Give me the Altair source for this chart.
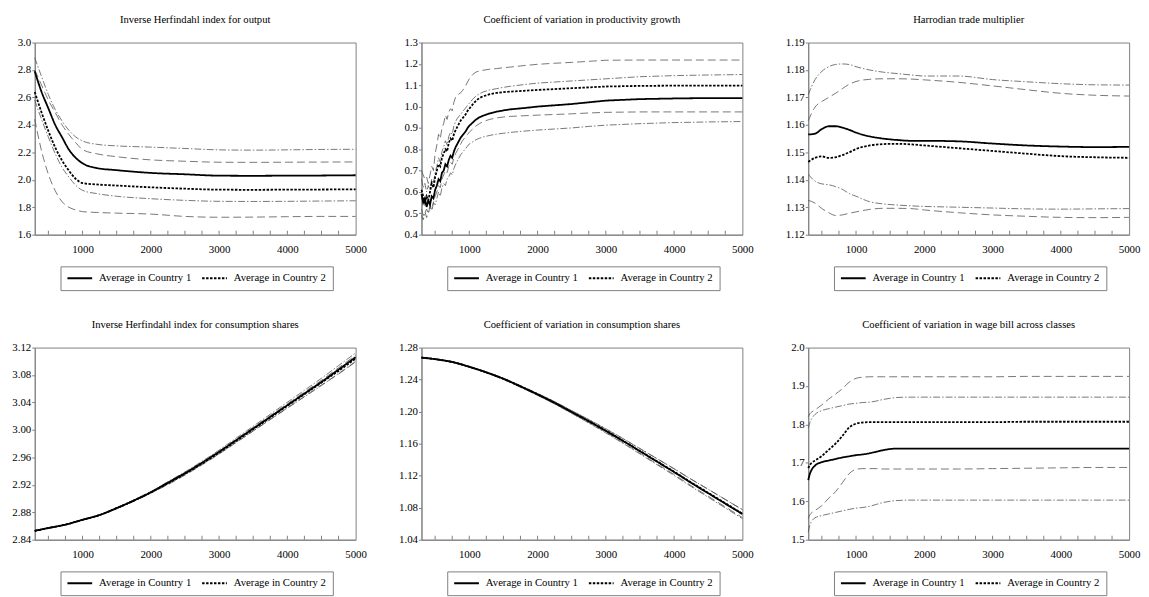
import altair as alt
import pandas as pd

S1 = "Average in Country 1"
S2 = "Average in Country 2"
X_DOMAIN = [300, 5000]
X_LABELS = [1000, 2000, 3000, 4000, 5000]
X_TICKS = [500, 750, 1000, 1250, 1500, 1750, 2000, 2250, 2500, 2750, 3000,
           3250, 3500, 3750, 4000, 4250, 4500, 4750]

# ---------- Panel 1: Inverse Herfindahl index for output ----------
p1_title = "Inverse Herfindahl index for output"
p1_x = [300, 400, 500, 600, 700, 800, 900, 1000, 1200, 1500, 2000, 2500, 3000, 3500, 4000, 4500, 5000]
p1_c1_hi = [2.889, 2.752, 2.620, 2.512, 2.428, 2.361, 2.312, 2.283, 2.259, 2.247, 2.238, 2.228, 2.218, 2.216, 2.218, 2.221, 2.222]
p1_c2_hi = [2.800, 2.690, 2.580, 2.490, 2.400, 2.330, 2.270, 2.220, 2.190, 2.168, 2.145, 2.135, 2.128, 2.127, 2.128, 2.129, 2.130]
p1_c1 = [2.790, 2.640, 2.520, 2.400, 2.310, 2.220, 2.160, 2.120, 2.086, 2.070, 2.050, 2.040, 2.030, 2.029, 2.030, 2.031, 2.033]
p1_c2 = [2.640, 2.490, 2.355, 2.235, 2.140, 2.067, 2.007, 1.976, 1.966, 1.958, 1.945, 1.935, 1.928, 1.927, 1.928, 1.929, 1.930]
p1_c1_lo = [2.580, 2.440, 2.310, 2.190, 2.090, 2.020, 1.960, 1.923, 1.900, 1.880, 1.862, 1.850, 1.843, 1.842, 1.843, 1.845, 1.847]
p1_c2_lo = [2.440, 2.210, 2.040, 1.920, 1.840, 1.800, 1.780, 1.768, 1.762, 1.757, 1.750, 1.733, 1.727, 1.728, 1.731, 1.733, 1.733]
p1_y = [1.6, 1.8, 2.0, 2.2, 2.4, 2.6, 2.8, 3.0]

# ---------- Panel 2: Coefficient of variation in productivity growth ----------
p2_title = "Coefficient of variation in productivity growth"
p2_x = [300, 325, 350, 375, 400, 425, 450, 475, 500, 525, 550, 575, 600, 625, 650, 675, 700, 725, 750, 775,
        800, 825, 850, 875, 900, 925, 950, 975, 1000,
        1050, 1100, 1150, 1200, 1300, 1400, 1500, 1600, 1800, 2000, 2250, 2500, 2750, 3000, 3500, 4000, 4500, 5000]
p2_c2_hi = [0.70, 0.68, 0.66, 0.67, 0.64, 0.68, 0.72, 0.70, 0.78, 0.82, 0.87, 0.85, 0.90, 0.92, 0.96, 0.94, 0.975, 0.99, 0.98, 1.02,
            1.045, 1.05, 1.06, 1.065, 1.075, 1.085, 1.10, 1.115, 1.13,
            1.15, 1.162, 1.167, 1.170, 1.175, 1.178, 1.182, 1.185, 1.192, 1.198, 1.203, 1.207, 1.212, 1.217, 1.218, 1.218, 1.218, 1.218]
p2_c1_hi = [0.66, 0.62, 0.64, 0.60, 0.63, 0.61, 0.66, 0.64, 0.69, 0.72, 0.76, 0.74, 0.79, 0.81, 0.84, 0.82, 0.86, 0.88, 0.87, 0.91,
            0.93, 0.945, 0.955, 0.965, 0.975, 0.985, 0.995, 1.005, 1.015,
            1.035, 1.05, 1.06, 1.068, 1.078, 1.084, 1.09, 1.095, 1.103, 1.11, 1.115, 1.12, 1.125, 1.13, 1.14, 1.145, 1.148, 1.15]
p2_c2 = [0.61, 0.58, 0.55, 0.58, 0.56, 0.60, 0.64, 0.62, 0.67, 0.70, 0.73, 0.72, 0.76, 0.78, 0.80, 0.79, 0.83, 0.85, 0.84, 0.87,
         0.89, 0.905, 0.92, 0.935, 0.945, 0.955, 0.965, 0.98, 0.99,
         1.01, 1.028, 1.04, 1.048, 1.058, 1.064, 1.068, 1.07, 1.074, 1.078, 1.082, 1.086, 1.09, 1.094, 1.097, 1.098, 1.098, 1.098]
p2_c1 = [0.59, 0.55, 0.57, 0.53, 0.56, 0.54, 0.58, 0.57, 0.61, 0.63, 0.66, 0.65, 0.69, 0.70, 0.73, 0.72, 0.75, 0.77, 0.76, 0.79,
         0.81, 0.825, 0.84, 0.855, 0.865, 0.875, 0.885, 0.90, 0.91,
         0.925, 0.94, 0.95, 0.957, 0.968, 0.976, 0.982, 0.987, 0.993, 1.0, 1.006, 1.012, 1.02, 1.028, 1.035, 1.038, 1.04, 1.04]
p2_c2_lo = [0.52, 0.49, 0.51, 0.48, 0.50, 0.53, 0.51, 0.55, 0.58, 0.60, 0.63, 0.62, 0.66, 0.68, 0.70, 0.69, 0.72, 0.74, 0.73, 0.76,
            0.78, 0.795, 0.81, 0.825, 0.84, 0.85, 0.86, 0.87, 0.88,
            0.895, 0.91, 0.92, 0.93, 0.94, 0.947, 0.951, 0.954, 0.957, 0.96, 0.963, 0.966, 0.97, 0.973, 0.975, 0.975, 0.975, 0.975]
p2_c1_lo = [0.49, 0.47, 0.50, 0.52, 0.50, 0.54, 0.52, 0.55, 0.54, 0.57, 0.60, 0.58, 0.62, 0.64, 0.63, 0.66, 0.67, 0.69, 0.68, 0.71,
            0.73, 0.745, 0.76, 0.775, 0.785, 0.795, 0.805, 0.815, 0.825,
            0.835, 0.845, 0.852, 0.857, 0.865, 0.871, 0.875, 0.879, 0.885, 0.89, 0.895, 0.90, 0.907, 0.913, 0.92, 0.925, 0.928, 0.93]
p2_y = [0.4, 0.5, 0.6, 0.7, 0.8, 0.9, 1.0, 1.1, 1.2, 1.3]

# ---------- Panel 3: Harrodian trade multiplier ----------
p3_title = "Harrodian trade multiplier"
p3_x = [300, 400, 500, 600, 700, 800, 900, 1000, 1200, 1400, 1600, 1800, 2000, 2500, 3000, 3500, 4000, 4500, 5000]
p3_c1_hi = [1.1710, 1.1765, 1.1795, 1.1812, 1.1820, 1.1822, 1.1820, 1.1812, 1.1800, 1.1792, 1.1787, 1.1782, 1.1778, 1.1778, 1.1765, 1.1757, 1.1750, 1.1746, 1.1745]
p3_c2_hi = [1.1615, 1.1665, 1.1685, 1.1700, 1.1715, 1.1732, 1.1748, 1.1758, 1.1766, 1.1768, 1.1768, 1.1767, 1.1764, 1.1755, 1.1742, 1.1728, 1.1715, 1.1708, 1.1705]
p3_c1 = [1.1565, 1.1568, 1.1585, 1.1595, 1.1595, 1.1590, 1.1582, 1.1572, 1.1558, 1.1550, 1.1545, 1.1542, 1.1542, 1.1540, 1.1532, 1.1525, 1.1521, 1.1519, 1.1520]
p3_c2 = [1.1465, 1.1480, 1.1485, 1.1480, 1.1482, 1.1490, 1.1500, 1.1512, 1.1525, 1.1530, 1.1531, 1.1529, 1.1525, 1.1515, 1.1505, 1.1495, 1.1486, 1.1482, 1.1480]
p3_c1_lo = [1.1420, 1.1395, 1.1385, 1.1382, 1.1375, 1.1365, 1.1350, 1.1340, 1.1320, 1.1312, 1.1308, 1.1305, 1.1303, 1.1300, 1.1297, 1.1294, 1.1293, 1.1294, 1.1295]
p3_c2_lo = [1.1325, 1.1315, 1.1295, 1.1280, 1.1270, 1.1272, 1.1278, 1.1283, 1.1292, 1.1296, 1.1296, 1.1295, 1.1290, 1.1280, 1.1272, 1.1267, 1.1263, 1.1262, 1.1263]
p3_y = [1.12, 1.13, 1.14, 1.15, 1.16, 1.17, 1.18, 1.19]

# ---------- Panel 4: Inverse Herfindahl index for consumption shares ----------
p4_title = "Inverse Herfindahl index for consumption shares"
p4_x = [300, 500, 750, 1000, 1250, 1500, 1750, 2000, 2250, 2500, 2750, 3000, 3250, 3500, 3750, 4000, 4250, 4500, 4750, 5000]
p4_c1_hi = [2.8533, 2.8573, 2.8624, 2.8695, 2.8766, 2.8868, 2.8980, 2.9102, 2.9245, 2.9388, 2.9542, 2.9706, 2.9880, 3.0054, 3.0228, 3.0403, 3.0578, 3.0753, 3.0938, 3.1122]
p4_c2_hi = [2.8532, 2.8572, 2.8623, 2.8693, 2.8764, 2.8865, 2.8977, 2.9098, 2.9238, 2.9379, 2.9530, 2.9692, 2.9865, 3.0037, 3.0208, 3.0380, 3.0552, 3.0724, 3.0906, 3.1088]
p4_c1 = [2.8530, 2.8570, 2.8620, 2.8690, 2.8760, 2.8860, 2.8970, 2.9090, 2.9230, 2.9370, 2.9520, 2.9680, 2.9850, 3.0020, 3.0190, 3.0360, 3.0530, 3.0700, 3.0880, 3.1060]
p4_c2 = [2.8530, 2.8570, 2.8620, 2.8690, 2.8760, 2.8860, 2.8970, 2.9090, 2.9220, 2.9360, 2.9510, 2.9670, 2.9840, 3.0010, 3.0180, 3.0350, 3.0520, 3.0690, 3.0860, 3.1040]
p4_c1_lo = [2.8527, 2.8567, 2.8616, 2.8685, 2.8754, 2.8852, 2.8960, 2.9078, 2.9215, 2.9352, 2.9498, 2.9654, 2.9820, 2.9986, 3.0152, 3.0317, 3.0482, 3.0647, 3.0822, 3.0998]
p4_c2_lo = [2.8528, 2.8568, 2.8617, 2.8687, 2.8756, 2.8855, 2.8963, 2.9082, 2.9202, 2.9341, 2.9490, 2.9648, 2.9815, 2.9983, 3.0152, 3.0320, 3.0488, 3.0656, 3.0814, 3.0992]
p4_y = [2.84, 2.88, 2.92, 2.96, 3.00, 3.04, 3.08, 3.12]

# ---------- Panel 5: Coefficient of variation in consumption shares ----------
p5_title = "Coefficient of variation in consumption shares"
p5_x = [300, 500, 750, 1000, 1250, 1500, 1750, 2000, 2250, 2500, 2750, 3000, 3250, 3500, 3750, 4000, 4250, 4500, 4750, 5000]
p5_c1_hi = [1.2678, 1.2658, 1.2624, 1.2565, 1.2496, 1.2418, 1.2325, 1.2227, 1.2125, 1.2013, 1.1902, 1.1786, 1.1665, 1.1539, 1.1413, 1.1287, 1.1156, 1.1030, 1.0903, 1.0776]
p5_c2_hi = [1.2677, 1.2657, 1.2623, 1.2564, 1.2495, 1.2416, 1.2323, 1.2225, 1.2123, 1.2011, 1.1900, 1.1783, 1.1663, 1.1537, 1.1412, 1.1285, 1.1155, 1.1029, 1.0902, 1.0775]
p5_c1 = [1.2675, 1.2655, 1.2620, 1.2560, 1.2490, 1.2410, 1.2315, 1.2215, 1.2110, 1.1995, 1.1880, 1.1760, 1.1635, 1.1505, 1.1375, 1.1245, 1.1110, 1.0980, 1.0850, 1.0720]
p5_c2 = [1.2675, 1.2655, 1.2620, 1.2560, 1.2490, 1.2410, 1.2315, 1.2215, 1.2110, 1.1996, 1.1881, 1.1762, 1.1637, 1.1509, 1.1379, 1.1250, 1.1115, 1.0986, 1.0856, 1.0726]
p5_c1_lo = [1.2672, 1.2652, 1.2616, 1.2555, 1.2484, 1.2402, 1.2305, 1.2203, 1.2095, 1.1977, 1.1858, 1.1734, 1.1605, 1.1471, 1.1337, 1.1203, 1.1064, 1.0930, 1.0797, 1.0664]
p5_c2_lo = [1.2673, 1.2653, 1.2617, 1.2556, 1.2486, 1.2404, 1.2307, 1.2205, 1.2097, 1.1981, 1.1862, 1.1742, 1.1611, 1.1481, 1.1346, 1.1215, 1.1075, 1.0943, 1.0810, 1.0677]
p5_y = [1.04, 1.08, 1.12, 1.16, 1.20, 1.24, 1.28]

# ---------- Panel 6: Coefficient of variation in wage bill across classes ----------
p6_title = "Coefficient of variation in wage bill across classes"
p6_x = [300, 325, 350, 400, 500, 600, 700, 800, 900, 1000, 1100, 1200, 1300, 1400, 1500, 1600, 1800, 2000, 2500, 3000, 3500, 4000, 4500, 5000]
p6_c2_hi = [1.820, 1.828, 1.832, 1.838, 1.851, 1.866, 1.879, 1.893, 1.910, 1.920, 1.923, 1.924, 1.924, 1.924, 1.924, 1.924, 1.924, 1.924, 1.924, 1.924, 1.925, 1.925, 1.925, 1.925]
p6_c1_hi = [1.790, 1.805, 1.815, 1.826, 1.836, 1.841, 1.845, 1.849, 1.853, 1.855, 1.857, 1.858, 1.861, 1.865, 1.868, 1.870, 1.871, 1.871, 1.871, 1.871, 1.871, 1.871, 1.871, 1.871]
p6_c2 = [1.686, 1.695, 1.700, 1.706, 1.718, 1.734, 1.750, 1.770, 1.792, 1.802, 1.805, 1.806, 1.806, 1.806, 1.806, 1.806, 1.806, 1.806, 1.806, 1.806, 1.807, 1.807, 1.807, 1.807]
p6_c1 = [1.655, 1.672, 1.682, 1.693, 1.702, 1.706, 1.710, 1.714, 1.717, 1.720, 1.722, 1.725, 1.729, 1.733, 1.736, 1.737, 1.737, 1.737, 1.737, 1.737, 1.737, 1.737, 1.737, 1.737]
p6_c2_lo = [1.555, 1.565, 1.570, 1.576, 1.589, 1.608, 1.625, 1.648, 1.672, 1.683, 1.685, 1.685, 1.685, 1.684, 1.684, 1.684, 1.684, 1.684, 1.684, 1.685, 1.686, 1.687, 1.688, 1.688]
p6_c1_lo = [1.520, 1.538, 1.548, 1.557, 1.563, 1.567, 1.571, 1.575, 1.579, 1.582, 1.584, 1.587, 1.592, 1.597, 1.600, 1.602, 1.603, 1.603, 1.603, 1.603, 1.603, 1.603, 1.603, 1.603]
p6_y = [1.5, 1.6, 1.7, 1.8, 1.9, 2.0]

W, H = 324, 194
FONT = "Liberation Serif"


def panel(title, xs, c1, c2, c1_hi, c1_lo, c2_hi, c2_lo, ydom, yvals, yfmt, interp):
    n = len(xs)
    means = pd.DataFrame({"x": xs * 2, "y": c1 + c2, "series": [S1] * n + [S2] * n})
    b1 = pd.DataFrame({"x": xs * 2, "y": c1_hi + c1_lo, "bound": ["hi"] * n + ["lo"] * n})
    b2 = pd.DataFrame({"x": xs * 2, "y": c2_hi + c2_lo, "bound": ["hi"] * n + ["lo"] * n})
    ticks = pd.DataFrame({"x": X_TICKS})

    xenc = alt.X("x:Q", title=None,
                 scale=alt.Scale(domain=X_DOMAIN, nice=False, zero=False),
                 axis=alt.Axis(values=X_LABELS, format="d", tickSize=0, labelPadding=9,
                               labelFlush=False))
    yenc = alt.Y("y:Q", title=None,
                 scale=alt.Scale(domain=ydom, nice=False, zero=False),
                 axis=alt.Axis(values=yvals, format=yfmt, tickSize=3, labelPadding=1,
                               labelFlush=False))

    band1 = alt.Chart(b1).mark_line(color="#555555", strokeWidth=0.8,
                                    strokeDash=[7, 2, 1.5, 2], interpolate=interp).encode(
        x=xenc, y=yenc, detail="bound:N")
    band2 = alt.Chart(b2).mark_line(color="#555555", strokeWidth=0.8,
                                    strokeDash=[8, 4], interpolate=interp).encode(
        x=xenc, y=yenc, detail="bound:N")
    avg = alt.Chart(means).mark_line(color="black", strokeWidth=1.8, interpolate=interp).encode(
        x=xenc, y=yenc,
        strokeDash=alt.StrokeDash(
            "series:N",
            scale=alt.Scale(domain=[S1, S2], range=[[1, 0], [2.5, 1.5]]),
            legend=alt.Legend(title=None, orient="none", legendX=26, legendY=226,
                              direction="horizontal", symbolType="stroke", symbolSize=625,
                              symbolStrokeWidth=2, symbolStrokeColor="black",
                              labelFont=FONT, labelFontSize=10.8, labelColor="black",
                              labelOffset=6, columnPadding=9, padding=6, clipHeight=12,
                              strokeColor="#808080", fillColor="white")))
    tk = alt.Chart(ticks).mark_rule(color="#808080", strokeWidth=1).encode(
        x=xenc, y=alt.value(H), y2=alt.value(H - 4))
    return alt.layer(band1, band2, avg, tk).properties(
        width=W, height=H, title=alt.Title(title))


panels = [
    panel(p1_title, p1_x, p1_c1, p1_c2, p1_c1_hi, p1_c1_lo, p1_c2_hi, p1_c2_lo, [1.6, 3.0], p1_y, ".1f", "monotone"),
    panel(p2_title, p2_x, p2_c1, p2_c2, p2_c1_hi, p2_c1_lo, p2_c2_hi, p2_c2_lo, [0.4, 1.3], p2_y, ".1f", "linear"),
    panel(p3_title, p3_x, p3_c1, p3_c2, p3_c1_hi, p3_c1_lo, p3_c2_hi, p3_c2_lo, [1.12, 1.19], p3_y, ".2f", "monotone"),
    panel(p4_title, p4_x, p4_c1, p4_c2, p4_c1_hi, p4_c1_lo, p4_c2_hi, p4_c2_lo, [2.84, 3.12], p4_y, ".2f", "monotone"),
    panel(p5_title, p5_x, p5_c1, p5_c2, p5_c1_hi, p5_c1_lo, p5_c2_hi, p5_c2_lo, [1.04, 1.28], p5_y, ".2f", "monotone"),
    panel(p6_title, p6_x, p6_c1, p6_c2, p6_c1_hi, p6_c1_lo, p6_c2_hi, p6_c2_lo, [1.5, 2.0], p6_y, ".1f", "monotone"),
]

chart = alt.concat(
    *panels, columns=3, spacing=alt.RowColnumber(row=114, column=66.5), bounds="flush"
).resolve_scale(strokeDash="independent").resolve_legend(strokeDash="independent").properties(
    padding={"left": 3, "top": 2, "right": 0, "bottom": 0}, background="white"
).configure_view(stroke="#808080", strokeWidth=1).configure_axis(
    domainColor="#808080", tickColor="#808080", grid=False,
    labelFont=FONT, labelFontSize=11, labelColor="black"
).configure_title(
    font=FONT, fontSize=10.7, fontWeight="normal", color="black", offset=11, anchor="middle"
)

chart.save("out.html", embed_options={"renderer": "svg", "actions": False})
